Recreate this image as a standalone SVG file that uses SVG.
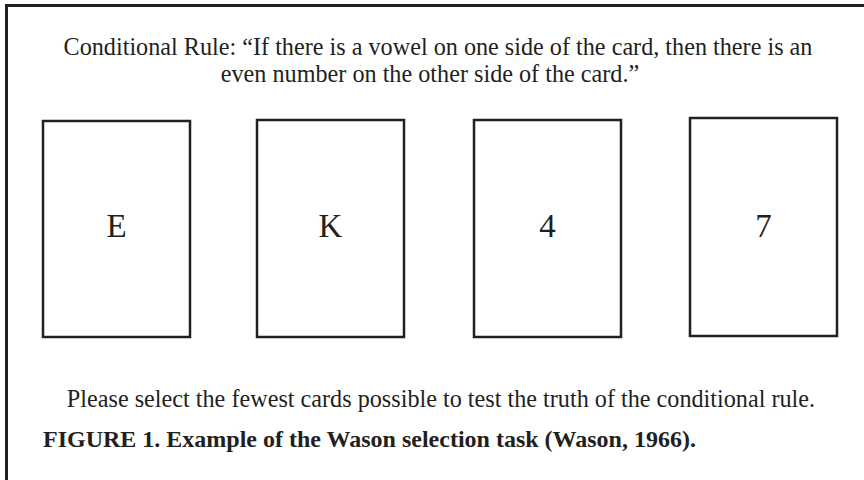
<svg xmlns="http://www.w3.org/2000/svg" width="864" height="480" viewBox="0 0 864 480">
<style>
.t{font-family:"Liberation Serif","Times New Roman",serif;fill:#231f20}
.b{font-weight:bold}
.card{fill:#fff;stroke:#231f20;stroke-width:2.5}
.lbl{font-family:"Liberation Serif","Times New Roman",serif;font-size:33px;fill:#231f20;text-anchor:middle}
.frame{fill:none;stroke:#231f20;stroke-width:3}
</style>
<rect width="864" height="480" fill="#fff"/>
<path class="frame" d="M6.5,482 V5.5 H866"/>
<g id="rule">
<text class="t" x="438" y="55" font-size="24.2" text-anchor="middle">Conditional Rule: “If there is a vowel on one side of the card, then there is an</text>
<text class="t" x="430" y="82" font-size="24.2" text-anchor="middle">even number on the other side of the card.”</text>
</g>
<g id="card-E"><rect class="card" x="43" y="121" width="147" height="216"/><text class="lbl" x="116.5" y="237">E</text></g>
<g id="card-K"><rect class="card" x="257" y="120" width="147" height="217"/><text class="lbl" x="330.5" y="237">K</text></g>
<g id="card-4"><rect class="card" x="474" y="120" width="147" height="217"/><text class="lbl" x="547.5" y="237">4</text></g>
<g id="card-7"><rect class="card" x="690" y="118" width="147" height="218"/><text class="lbl" x="763.5" y="237">7</text></g>
<g id="connectors"/>
<g id="instruction">
<text class="t" x="441" y="407" font-size="24.2" text-anchor="middle">Please select the fewest cards possible to test the truth of the conditional rule.</text>
</g>
<g id="caption">
<text class="t b" x="43" y="447" font-size="24">FIGURE 1. Example of the Wason selection task (Wason, 1966).</text>
</g>
</svg>
